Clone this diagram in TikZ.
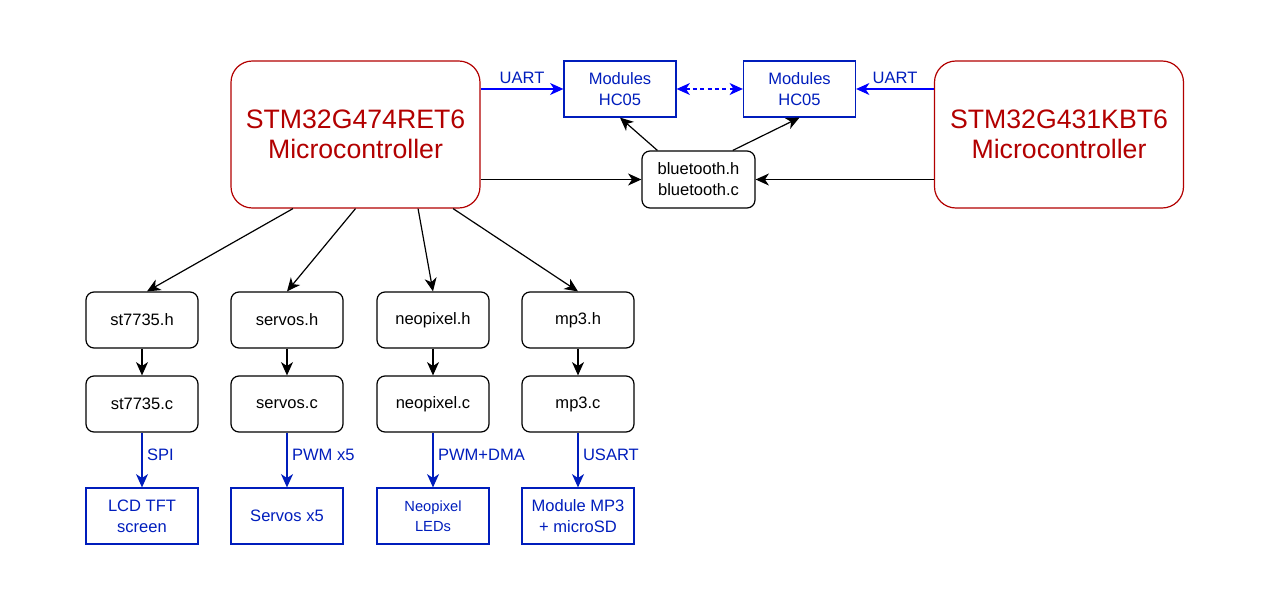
\documentclass[tikz,border=0pt]{standalone}
\usepackage{fontspec}
\setmainfont{Liberation Sans}
\usetikzlibrary{arrows.meta,calc}
\definecolor{mcured}{HTML}{B20000}
\definecolor{modblue}{HTML}{001DBC}
\definecolor{uartblue}{HTML}{0000FF}

\begin{document}
\begin{tikzpicture}[x=0.75pt,y=-0.75pt,
    mcu/.style={draw=mcured, text=mcured, line width=0.9pt, rounded corners=16pt,
        minimum width=186.75pt, minimum height=110.25pt, align=center,
        font=\fontsize{20}{22.5}\selectfont},
    file/.style={draw, line width=0.9pt, rounded corners=6pt,
        minimum width=84pt, minimum height=42pt, align=center,
        font=\fontsize{12.4}{15.75}\selectfont},
    module/.style={draw=modblue, text=modblue, line width=0.9pt,
        minimum width=84pt, minimum height=42pt, align=center,
        font=\fontsize{12.4}{15.75}\selectfont},
    arr/.style={-{Stealth[length=10pt,width=9pt,inset=3pt]}, line width=0.9pt},
    lbl/.style={text=modblue, font=\fontsize{12.4}{15.75}\selectfont}]
            \useasboundingbox (0,0) rectangle (1275,600);
            \node[mcu] (G474) at (355.5,134.5) {STM32G474RET6\\Microcontroller};
            \node[mcu] (G431) at (1059,134.5) {STM32G431KBT6\\Microcontroller};
            \node[module] (hcL) at (620,89) {Modules\\HC05};
            \node[module] (hcR) at (799.5,89) {Modules\\HC05};
            \node[file, minimum width=84.75pt, minimum height=42.75pt] (bt) at (698.5,179.5) {bluetooth.h\\bluetooth.c};
            \node[file] (sth) at (142,320) {st7735.h};
            \node[file] (svh) at (287,320) {servos.h};
            \node[file] (nph) at (433,320) {neopixel.h};
            \node[file] (mph) at (578,320) {mp3.h};
            \node[file] (stc) at (142,404) {st7735.c};
            \node[file] (svc) at (287,404) {servos.c};
            \node[file] (npc) at (433,404) {neopixel.c};
            \node[file] (mpc) at (578,404) {mp3.c};
            \node[module] (lcd) at (142,516) {LCD TFT\\screen};
            \node[module] (srv) at (287,516) {Servos x5};
            \node[module, font=\fontsize{11}{15}\selectfont] (led) at (433,516) {Neopixel\\LEDs};
            \node[module] (mp3) at (578,516) {Module MP3\\+ microSD};
            % bluetooth link
            \draw[arr, uartblue] (G474.east |- hcL.west) -- node[lbl, above, midway]{UART} (hcL.west);
            \draw[arr, uartblue] (G431.west |- hcR.east) -- node[lbl, above, midway]{UART} (hcR.east);
            \draw[uartblue, line width=0.9pt, dash pattern=on 3pt off 2.5pt,
                {Stealth[length=10pt,width=9pt,inset=3pt]}-{Stealth[length=10pt,width=9pt,inset=3pt]}] (hcL.east) -- (hcR.west);
            \draw[arr] (G474.east |- bt.west) -- (bt.west);
            \draw[arr] (G431.west |- bt.east) -- (bt.east);
            \draw[arr] ($(bt.north west)!0.14!(bt.north east)$) -- (hcL.south);
            \draw[arr] ($(bt.north west)!0.80!(bt.north east)$) -- (hcR.south);
            % drivers
            \draw[arr] ($(G474.south west)!0.25!(G474.south east)$) -- ($(sth.north)+(5,0)$);
            \draw[arr] ($(G474.south west)!0.50!(G474.south east)$) -- (svh.north);
            \draw[arr] ($(G474.south west)!0.75!(G474.south east)$) -- (nph.north);
            \draw[arr] ($(G474.south west)!0.89!(G474.south east)$) -- (mph.north);
            \draw[arr] (sth) -- (stc);
            \draw[arr] (svh) -- (svc);
            \draw[arr] (nph) -- (npc);
            \draw[arr] (mph) -- (mpc);
            \draw[arr, modblue] (stc) -- node[lbl, right, pos=0.4]{SPI} (lcd);
            \draw[arr, modblue] (svc) -- node[lbl, right, pos=0.4]{PWM x5} (srv);
            \draw[arr, modblue] (npc) -- node[lbl, right, pos=0.4]{PWM+DMA} (led);
            \draw[arr, modblue] (mpc) -- node[lbl, right, pos=0.4]{USART} (mp3);
        \end{tikzpicture}
\end{document}
